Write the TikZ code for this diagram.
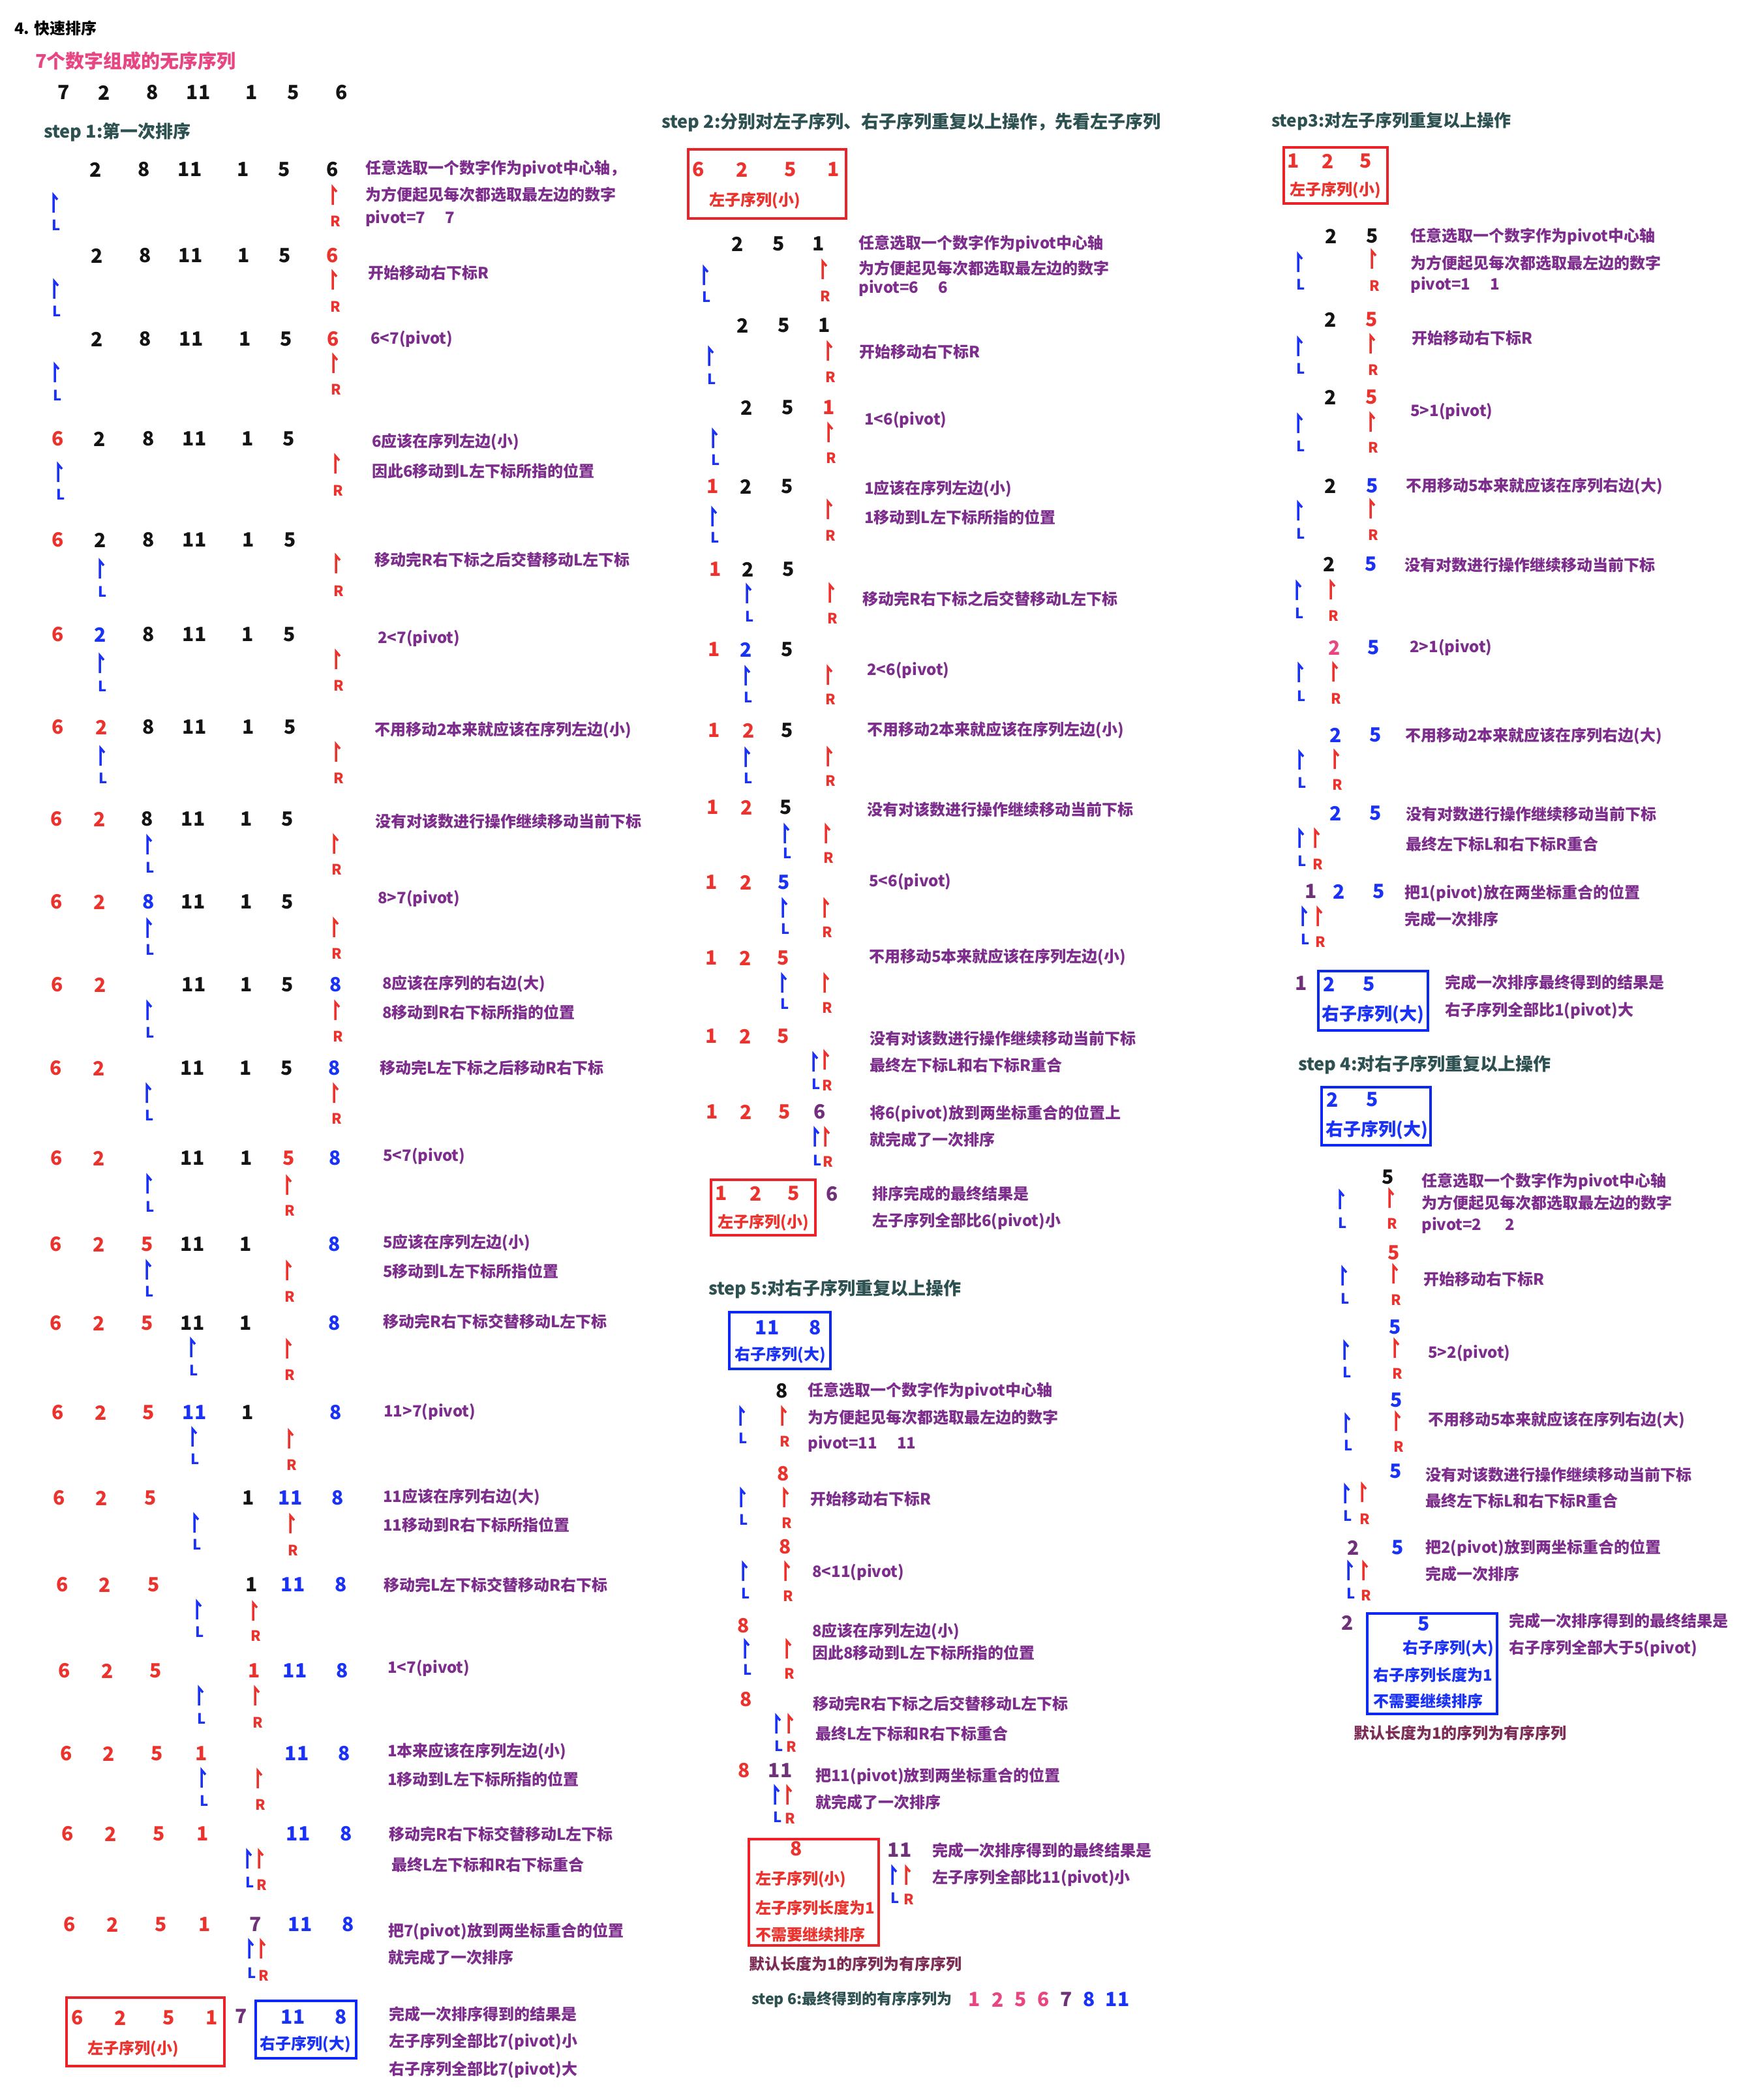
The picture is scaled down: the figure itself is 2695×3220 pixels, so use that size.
\documentclass[tikz,border=0pt]{standalone}
\usepackage{fontspec}
\setmainfont{Noto Sans CJK SC}
\definecolor{cK}{RGB}{20,20,20}
\definecolor{cR}{RGB}{236,50,45}
\definecolor{cB}{RGB}{25,50,245}
\definecolor{cP}{RGB}{112,48,122}
\definecolor{cPk}{RGB}{232,70,130}
\definecolor{ctxt}{RGB}{125,45,140}
\definecolor{cslate}{RGB}{45,80,80}
\definecolor{cmar}{RGB}{125,45,85}
\definecolor{cboxR}{RGB}{235,35,40}
\definecolor{cboxB}{RGB}{10,40,245}
\newcounter{nid}
\tikzset{
  numst/.style={font=\fontsize{30}{32}\selectfont\bfseries, inner sep=0pt, anchor=center},
  txt/.style={font=\fontsize{24}{26}\selectfont\bfseries, text=ctxt, inner sep=0pt, anchor=west},
  head/.style={font=\fontsize{27}{29}\selectfont\bfseries, text=cslate, inner sep=0pt, anchor=west},
  lr/.style={font=\fontsize{22}{24}\selectfont\bfseries, inner sep=0pt, anchor=center},
  ptr/.style={line width=3.5pt, line join=miter},
  boxR/.style={draw=cboxR, line width=3.5pt},
  boxB/.style={draw=cboxB, line width=3.5pt},
  blab/.style={font=\fontsize{24}{26}\selectfont\bfseries, inner sep=0pt},
}
\newcommand\numat[4]{\stepcounter{nid}\node[numst,text=#3] (v\arabic{nid}) at (#1,#2) {#4};}
\newcommand\txtat[3]{\stepcounter{nid}\node[txt] (v\arabic{nid}) at (#1,#2) {#3};}
\newcommand\ptrat[5]{\draw[ptr,#4] (#1,#2+27) -- (#1,#2) -- (#1+6,#2+7);
  \stepcounter{nid}\node[lr,text=#4] (v\arabic{nid}) at (#1+4,#3) {#5};}
\newcommand\rowat[2]{\foreach \qx/\qc/\qv in {#2}{\numat{\qx}{#1}{\qc}{\qv}}}
\newcommand\LR[6]{\ptrat{#1}{#2}{#3}{cB}{L}\ptrat{#4}{#5}{#6}{cR}{R}}
\begin{document}
\begin{tikzpicture}[x=1pt,y=-1pt]
\fill[white] (0,0) rectangle (2695,3220);
\useasboundingbox (0,0) rectangle (2695,3220);
% ---------------- titles
\node[font=\fontsize{24}{26}\selectfont\bfseries, text=black, anchor=west, inner sep=0pt] (title) at (22,43) {4. 快速排序};
\node[font=\fontsize{29}{31}\selectfont\bfseries, text=cPk, anchor=west, inner sep=0pt] (sub) at (54,93) {7个数字组成的无序序列};
\rowat{142}{98/cK/7,160/cK/2,234/cK/8,304/cK/11,386/cK/1,450/cK/5,524/cK/6}
\node[head] (h1) at (67,203) {step\ 1:第一次排序};
% ---------------- column 1
\rowat{260}{147/cK/2,221/cK/8,291/cK/11,373/cK/1,436/cK/5,510/cK/6}
\LR{82}{299}{345}{510}{287}{339}
\txtat{560}{259}{任意选取一个数字作为pivot中心轴，}
\txtat{560}{298}{为方便起见每次都选取最左边的数字}
\txtat{560}{335}{pivot=7\hspace{30pt}7}
\rowat{392}{149/cK/2,223/cK/8,292/cK/11,374/cK/1,437/cK/5,510/cR/6}
\LR{83}{431}{477}{510}{417}{470}
\txtat{564}{418}{开始移动右下标R}
\rowat{520}{149/cK/2,223/cK/8,293/cK/11,376/cK/1,439/cK/5,511/cR/6}
\LR{84}{559}{606}{511}{545}{597}
\txtat{568}{520}{6<7(pivot)}
\rowat{673}{89/cR/6,153/cK/2,228/cK/8,298/cK/11,380/cK/1,443/cK/5}
\LR{89}{712}{758}{514}{699}{752}
\txtat{570}{678}{6应该在序列左边(小)}
\txtat{570}{722}{因此6移动到L左下标所指的位置}
\rowat{828}{89/cR/6,154/cK/2,228/cK/8,298/cK/11,381/cK/1,445/cK/5}
\LR{153}{860}{907}{515}{852}{906}
\txtat{574}{858}{移动完R右下标之后交替移动L左下标}
\rowat{973}{89/cR/6,154/cB/2,228/cK/8,298/cK/11,380/cK/1,444/cK/5}
\LR{153}{1005}{1052}{515}{999}{1051}
\txtat{579}{979}{2<7(pivot)}
\rowat{1115}{89/cR/6,156/cR/2,228/cK/8,298/cK/11,381/cK/1,445/cK/5}
\LR{154}{1147}{1193}{515}{1141}{1193}
\txtat{574}{1120}{不用移动2本来就应该在序列左边(小)}
\rowat{1256}{87/cR/6,153/cR/2,226/cK/8,296/cK/11,378/cK/1,441/cK/5}
\LR{226}{1283}{1330}{512}{1282}{1333}
\txtat{575}{1259}{没有对该数进行操作继续移动当前下标}
\rowat{1383}{87/cR/6,153/cR/2,228/cB/8,296/cK/11,378/cK/1,441/cK/5}
\LR{226}{1411}{1456}{512}{1410}{1462}
\txtat{579}{1378}{8>7(pivot)}
\rowat{1510}{88/cR/6,154/cR/2,297/cK/11,378/cK/1,441/cK/5,515/cB/8}
\LR{226}{1537}{1583}{514}{1537}{1589}
\txtat{586}{1509}{8应该在序列的右边(大)}
\txtat{586}{1552}{8移动到R右下标所指的位置}
\rowat{1638}{86/cR/6,152/cR/2,295/cK/11,377/cK/1,440/cK/5,513/cB/8}
\LR{225}{1664}{1710}{512}{1664}{1715}
\txtat{582}{1637}{移动完L左下标之后移动R右下标}
\rowat{1776}{87/cR/6,152/cR/2,295/cK/11,378/cK/1,443/cR/5,514/cB/8}
\LR{226}{1803}{1850}{440}{1805}{1856}
\txtat{587}{1773}{5<7(pivot)}
\rowat{1908}{86/cR/6,152/cR/2,226/cR/5,295/cK/11,377/cK/1,513/cB/8}
\LR{225}{1935}{1980}{440}{1936}{1988}
\txtat{587}{1906}{5应该在序列左边(小)}
\txtat{587}{1949}{5移动到L左下标所指位置}
\rowat{2029}{86/cR/6,152/cR/2,226/cR/5,295/cK/11,377/cK/1,513/cB/8}
\LR{293}{2054}{2101}{440}{2056}{2108}
\txtat{587}{2026}{移动完R右下标交替移动L左下标}
\rowat{2166}{89/cR/6,155/cR/2,228/cR/5,298/cB/11,380/cK/1,515/cB/8}
\LR{295}{2191}{2237}{443}{2194}{2246}
\txtat{588}{2165}{11>7(pivot)}
\rowat{2297}{91/cR/6,156/cR/2,231/cR/5,381/cK/1,445/cB/11,518/cB/8}
\LR{298}{2323}{2368}{445}{2324}{2377}
\txtat{587}{2296}{11应该在序列右边(大)}
\txtat{587}{2338}{11移动到R右下标所指位置}
\rowat{2430}{96/cR/6,161/cR/2,236/cR/5,386/cK/1,449/cB/11,523/cB/8}
\LR{302}{2456}{2502}{388}{2458}{2508}
\txtat{588}{2430}{移动完L左下标交替移动R右下标}
\rowat{2562}{99/cR/6,165/cR/2,239/cR/5,390/cR/1,452/cB/11,525/cB/8}
\LR{305}{2588}{2635}{391}{2588}{2641}
\txtat{594}{2558}{1<7(pivot)}
\rowat{2689}{102/cR/6,167/cR/2,241/cR/5,309/cR/1,455/cB/11,528/cB/8}
\LR{309}{2714}{2761}{395}{2715}{2767}
\txtat{594}{2685}{1本来应该在序列左边(小)}
\txtat{594}{2728}{1移动到L左下标所指的位置}
\rowat{2812}{104/cR/6,170/cR/2,244/cR/5,311/cR/1,457/cB/11,531/cB/8}
\LR{379}{2838}{2886}{397}{2838}{2890}
\txtat{596}{2812}{移动完R右下标交替移动L左下标}
\txtat{600}{2859}{最终L左下标和R右下标重合}
\rowat{2951}{107/cR/6,173/cR/2,247/cR/5,314/cR/1,392/cP/7,460/cB/11,534/cB/8}
\LR{382}{2976}{3025}{400}{2976}{3029}
\txtat{595}{2961}{把7(pivot)放到两坐标重合的位置}
\txtat{595}{3001}{就完成了一次排序}
\draw[boxR] (102,3063) rectangle (344,3168);
\rowat{3094}{119/cR/6,185/cR/2,259/cR/5,325/cR/1}
\node[blab,text=cR] (lab1) at (204,3142) {左子序列(小)};
\numat{370}{3092}{cP}{7}
\draw[boxB] (392,3068) rectangle (546,3156);
\rowat{3093}{449/cB/11,523/cB/8}
\node[blab,text=cB] (lab2) at (468,3135) {右子序列(大)};
\txtat{596}{3088}{完成一次排序得到的结果是}
\txtat{596}{3131}{左子序列全部比7(pivot)小}
\txtat{596}{3174}{右子序列全部比7(pivot)大}
% ---------------- column 2 : step 2
\node[head] (h2) at (1014,188) {step\ 2:分别对左子序列、右子序列重复以上操作，先看左子序列};
\draw[boxR] (1055,229) rectangle (1297,335);
\rowat{260}{1071/cR/6,1138/cR/2,1212/cR/5,1278/cR/1}
\node[blab,text=cR] (lab3) at (1157,308) {左子序列(小)};
\rowat{374}{1131/cK/2,1194/cK/5,1255/cK/1}
\LR{1079}{410}{455}{1261}{401}{454}
\txtat{1316}{374}{任意选取一个数字作为pivot中心轴}
\txtat{1316}{411}{为方便起见每次都选取最左边的数字}
\txtat{1316}{442}{pivot=6\hspace{30pt}6}
\rowat{499}{1139/cK/2,1202/cK/5,1264/cK/1}
\LR{1087}{534}{581}{1269}{526}{578}
\txtat{1317}{539}{开始移动右下标R}
\rowat{625}{1145/cK/2,1208/cK/5,1271/cR/1}
\LR{1093}{660}{705}{1270}{651}{702}
\txtat{1325}{644}{1<6(pivot)}
\rowat{746}{1093/cR/1,1144/cK/2,1207/cK/5}
\LR{1092}{780}{824}{1269}{769}{821}
\txtat{1325}{750}{1应该在序列左边(小)}
\txtat{1325}{793}{1移动到L左下标所指的位置}
\rowat{873}{1097/cR/1,1147/cK/2,1209/cK/5}
\LR{1145}{898}{945}{1272}{897}{948}
\txtat{1322}{918}{移动完R右下标之后交替移动L左下标}
\rowat{996}{1095/cR/1,1144/cB/2,1207/cK/5}
\LR{1143}{1024}{1069}{1269}{1023}{1072}
\txtat{1329}{1028}{2<6(pivot)}
\rowat{1120}{1095/cR/1,1148/cR/2,1207/cK/5}
\LR{1143}{1149}{1193}{1269}{1148}{1197}
\txtat{1329}{1120}{不用移动2本来就应该在序列左边(小)}
\rowat{1238}{1093/cR/1,1145/cR/2,1205/cK/5}
\LR{1203}{1266}{1308}{1266}{1266}{1315}
\txtat{1329}{1241}{没有对该数进行操作继续移动当前下标}
\rowat{1353}{1091/cR/1,1144/cR/2,1202/cB/5}
\LR{1200}{1380}{1424}{1264}{1380}{1429}
\txtat{1332}{1352}{5<6(pivot)}
\rowat{1469}{1091/cR/1,1143/cR/2,1201/cR/5}
\LR{1199}{1495}{1539}{1264}{1495}{1545}
\txtat{1332}{1468}{不用移动5本来就应该在序列左边(小)}
\rowat{1589}{1091/cR/1,1143/cR/2,1201/cR/5}
\LR{1247}{1616}{1662}{1264}{1613}{1664}
\txtat{1333}{1592}{没有对该数进行操作继续移动当前下标}
\txtat{1333}{1633}{最终左下标L和右下标R重合}
\rowat{1705}{1092/cR/1,1144/cR/2,1203/cR/5,1257/cP/6}
\LR{1249}{1731}{1779}{1265}{1731}{1781}
\txtat{1333}{1707}{将6(pivot)放到两坐标重合的位置上}
\txtat{1333}{1747}{就完成了一次排序}
\draw[boxR] (1090,1809) rectangle (1250,1894);
\rowat{1830}{1106/cR/1,1159/cR/2,1217/cR/5}
\node[blab,text=cR] (lab4) at (1170,1875) {左子序列(小)};
\numat{1276}{1831}{cP}{6}
\txtat{1337}{1830}{排序完成的最终结果是}
\txtat{1337}{1873}{左子序列全部比6(pivot)小}
% ---------------- column 2 : step 5
\node[head] (h5) at (1086,1977) {step\ 5:对右子序列重复以上操作};
\draw[boxB] (1118,2012) rectangle (1273,2099);
\rowat{2036}{1176/cB/11,1250/cB/8}
\node[blab,text=cB] (lab5) at (1196,2078) {右子序列(大)};
\numat{1199}{2133}{cK}{8}
\LR{1135}{2159}{2205}{1199}{2159}{2210}
\txtat{1238}{2133}{任意选取一个数字作为pivot中心轴}
\txtat{1238}{2173}{为方便起见每次都选取最左边的数字}
\txtat{1238}{2214}{pivot=11\hspace{30pt}11}
\numat{1201}{2260}{cR}{8}
\LR{1136}{2284}{2330}{1202}{2284}{2335}
\txtat{1242}{2298}{开始移动右下标R}
\numat{1204}{2372}{cR}{8}
\LR{1139}{2397}{2443}{1204}{2397}{2447}
\txtat{1245}{2411}{8<11(pivot)}
\numat{1140}{2493}{cR}{8}
\LR{1142}{2516}{2560}{1206}{2516}{2566}
\txtat{1245}{2501}{8应该在序列左边(小)}
\txtat{1245}{2534}{因此8移动到L左下标所指的位置}
\numat{1144}{2606}{cR}{8}
\LR{1190}{2631}{2677}{1209}{2631}{2678}
\txtat{1246}{2612}{移动完R右下标之后交替移动L左下标}
\txtat{1250}{2658}{最终L左下标和R右下标重合}
\rowat{2715}{1141/cR/8,1196/cP/11}
\LR{1188}{2740}{2786}{1207}{2740}{2788}
\txtat{1250}{2723}{把11(pivot)放到两坐标重合的位置}
\txtat{1250}{2763}{就完成了一次排序}
\draw[boxR] (1148,2820) rectangle (1347,2983);
\numat{1221}{2835}{cR}{8}
\node[blab,text=cR,anchor=west] (lab6) at (1158,2882) {左子序列(小)};
\node[blab,text=cR,anchor=west] (lab7) at (1158,2925) {左子序列长度为1};
\node[blab,text=cR,anchor=west] (lab8) at (1158,2966) {不需要继续排序};
\numat{1379}{2837}{cP}{11}
\LR{1368}{2863}{2910}{1389}{2863}{2912}
\txtat{1429}{2837}{完成一次排序得到的最终结果是}
\txtat{1429}{2880}{左子序列全部比11(pivot)小}
\node[txt,text=cmar] (def1) at (1148,3011) {默认长度为1的序列为有序序列};
\node[head,font=\fontsize{23}{25}\selectfont\bfseries] (h6) at (1152,3066) {step\ 6:最终得到的有序序列为};
\rowat{3066}{1494/cPk/1,1530/cPk/2,1565/cPk/5,1600/cPk/6,1635/cP/7,1670/cB/8,1713/cB/11}
% ---------------- column 3 : step 3
\node[head,font=\fontsize{26}{28}\selectfont\bfseries] (h3) at (1949,186) {step3:对左子序列重复以上操作};
\draw[boxR] (1968,226) rectangle (2127,312);
\rowat{247}{1983/cR/1,2036/cR/2,2094/cR/5}
\node[blab,text=cR] (lab9) at (2047,292) {左子序列(小)};
\rowat{362}{2041/cK/2,2104/cK/5}
\LR{1990}{390}{436}{2103}{385}{438}
\txtat{2162}{363}{任意选取一个数字作为pivot中心轴}
\txtat{2162}{403}{为方便起见每次都选取最左边的数字}
\txtat{2162}{437}{pivot=1\hspace{30pt}1}
\rowat{490}{2040/cK/2,2103/cR/5}
\LR{1990}{519}{565}{2101}{515}{567}
\txtat{2164}{518}{开始移动右下标R}
\rowat{609}{2040/cK/2,2103/cR/5}
\LR{1990}{637}{684}{2101}{635}{686}
\txtat{2162}{631}{5>1(pivot)}
\rowat{745}{2040/cK/2,2104/cB/5}
\LR{1990}{771}{818}{2101}{768}{820}
\txtat{2155}{746}{不用移动5本来就应该在序列右边(大)}
\rowat{865}{2038/cK/2,2102/cB/5}
\LR{1988}{893}{940}{2040}{892}{944}
\txtat{2153}{866}{没有对数进行操作继续移动当前下标}
\rowat{993}{2046/cPk/2,2106/cB/5}
\LR{1991}{1019}{1067}{2044}{1018}{1071}
\txtat{2161}{993}{2>1(pivot)}
\rowat{1127}{2048/cB/2,2109/cB/5}
\LR{1992}{1153}{1200}{2046}{1152}{1203}
\txtat{2154}{1129}{不用移动2本来就应该在序列右边(大)}
\rowat{1247}{2048/cB/2,2109/cB/5}
\LR{1992}{1273}{1320}{2016}{1273}{1325}
\txtat{2155}{1248}{没有对数进行操作继续移动当前下标}
\txtat{2155}{1294}{最终左下标L和右下标R重合}
\rowat{1367}{2010/cP/1,2053/cB/2,2114/cB/5}
\LR{1997}{1393}{1440}{2020}{1393}{1444}
\txtat{2153}{1369}{把1(pivot)放在两坐标重合的位置}
\txtat{2153}{1409}{完成一次排序}
\numat{1995}{1508}{cP}{1}
\draw[boxB] (2021,1489) rectangle (2189,1580);
\rowat{1509}{2038/cB/2,2099/cB/5}
\node[blab,text=cB,font=\fontsize{27}{29}\selectfont\bfseries] (lab10) at (2105,1556) {右子序列(大)};
\txtat{2215}{1506}{完成一次排序最终得到的结果是}
\txtat{2215}{1550}{右子序列全部比1(pivot)大}
% ---------------- column 3 : step 4
\node[head] (h4) at (1990,1633) {step\ 4:对右子序列重复以上操作};
\draw[boxB] (2026,1667) rectangle (2193,1756);
\rowat{1686}{2043/cB/2,2104/cB/5}
\node[blab,text=cB,font=\fontsize{27}{29}\selectfont\bfseries] (lab11) at (2111,1733) {右子序列(大)};
\numat{2128}{1805}{cK}{5}
\LR{2054}{1827}{1875}{2130}{1825}{1876}
\txtat{2179}{1812}{任意选取一个数字作为pivot中心轴}
\txtat{2179}{1844}{为方便起见每次都选取最左边的数字}
\txtat{2179}{1879}{pivot=2\hspace{36pt}2}
\numat{2137}{1921}{cR}{5}
\LR{2058}{1944}{1991}{2136}{1941}{1993}
\txtat{2182}{1961}{开始移动右下标R}
\numat{2139}{2035}{cB}{5}
\LR{2061}{2058}{2104}{2138}{2055}{2106}
\txtat{2189}{2075}{5>2(pivot)}
\numat{2141}{2147}{cB}{5}
\LR{2063}{2170}{2216}{2140}{2167}{2218}
\txtat{2189}{2178}{不用移动5本来就应该在序列右边(大)}
\numat{2140}{2256}{cB}{5}
\LR{2062}{2278}{2324}{2088}{2276}{2329}
\txtat{2185}{2261}{没有对该数进行操作继续移动当前下标}
\txtat{2185}{2301}{最终左下标L和右下标R重合}
\rowat{2373}{2075/cP/2,2143/cB/5}
\LR{2067}{2396}{2443}{2090}{2396}{2446}
\txtat{2185}{2373}{把2(pivot)放到两坐标重合的位置}
\txtat{2185}{2413}{完成一次排序}
\numat{2066}{2488}{cP}{2}
\draw[boxB] (2096,2474) rectangle (2295,2628);
\numat{2183}{2490}{cB}{5}
\node[blab,text=cB] (lab12) at (2220,2528) {右子序列(大)};
\node[blab,text=cB,anchor=west] (lab13) at (2105,2568) {右子序列长度为1};
\node[blab,text=cB,anchor=west] (lab14) at (2105,2608) {不需要继续排序};
\txtat{2313}{2485}{完成一次排序得到的最终结果是}
\txtat{2313}{2528}{右子序列全部大于5(pivot)}
\node[txt,text=cmar] (def2) at (2075,2657) {默认长度为1的序列为有序序列};
\end{tikzpicture}
\end{document}
